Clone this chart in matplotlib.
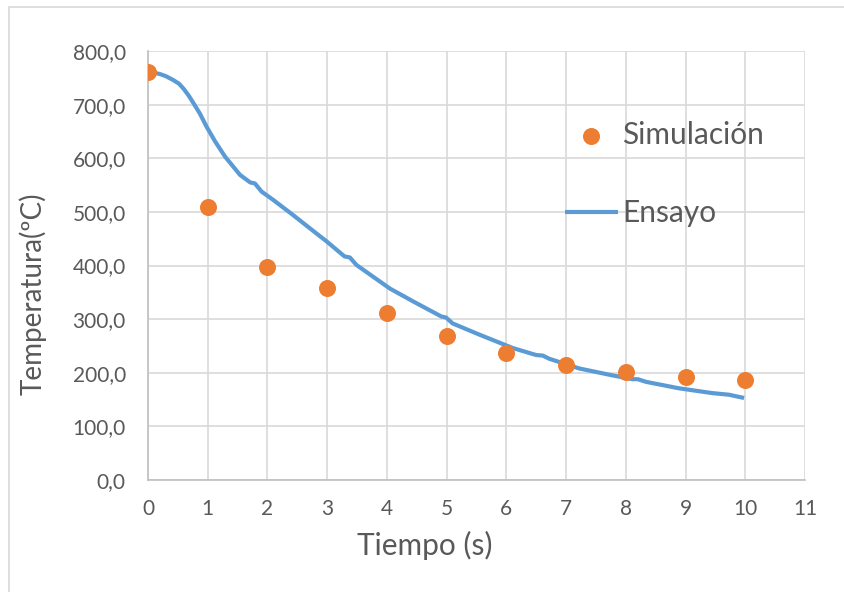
import matplotlib
matplotlib.use("Agg")
import matplotlib.pyplot as plt
from matplotlib.patches import Rectangle
from matplotlib.ticker import FuncFormatter

plt.rcParams['font.family'] = ['Lato', 'DejaVu Sans']

# Simulated temperatures, one value per second
sim_t = [0, 1, 2, 3, 4, 5, 6, 7, 8, 9, 10]
sim_temp = [760, 510, 397, 358, 311, 268, 236, 214, 201, 192, 186]

# Measured cooling curve (test)
test_t = [0.0, 0.12, 0.2, 0.3, 0.42, 0.52, 0.6, 0.68, 0.76, 0.87, 0.98, 1.12,
          1.29, 1.54, 1.71, 1.79, 1.90, 2.10, 2.43, 2.76, 2.99, 3.29, 3.38, 3.49,
          3.77, 4.05, 4.44, 4.91, 4.99, 5.10, 5.55, 6.11, 6.50, 6.61, 6.72, 7.22,
          7.78, 8.11, 8.20, 8.34, 8.89, 9.45, 9.73, 9.81, 9.98]
test_temp = [758, 759, 757, 753, 746, 739, 729, 717, 703, 683, 659, 632,
             603, 569, 555, 553, 538, 522, 494, 465, 445, 417, 415, 401,
             379, 357, 333, 305, 303, 292, 271, 246, 233, 232, 226, 208,
             195, 188, 188, 183, 171, 162, 159, 157, 153]

text_col = '#595959'
grid_col = '#d9d9d9'

fig = plt.figure(figsize=(8.45, 5.92), dpi=100)
ax = fig.add_axes([148 / 845, 112 / 592, 657 / 845, 429 / 592])

# outer chart border
fig.patches.append(Rectangle((9.5 / 845, -0.1), 1.2, (592 - 6.5) / 592 + 0.1,
                             transform=fig.transFigure, fill=False,
                             edgecolor='#d9d9d9', linewidth=1.2))

ax.plot(test_t, test_temp, color='#5B9BD5', linewidth=3, label='Ensayo',
        solid_capstyle='butt', solid_joinstyle='round', zorder=3)
ax.scatter(sim_t, sim_temp, s=150, color='#ED7D31', label='Simulación',
           zorder=4, linewidths=0)

ax.set_xlim(0, 11)
ax.set_ylim(0, 800)
ax.set_xticks(range(0, 12))
ax.set_yticks(range(0, 801, 100))
ax.yaxis.set_major_formatter(FuncFormatter(lambda v, p: f'{v:.1f}'.replace('.', ',')))
ax.grid(True, color=grid_col, linewidth=1.2)
ax.set_axisbelow(True)
for side in ['top', 'right']:
    ax.spines[side].set_visible(False)
for side in ['left', 'bottom']:
    ax.spines[side].set_color('#bfbfbf')
    ax.spines[side].set_linewidth(1.2)
ax.tick_params(length=0, labelsize=15, colors=text_col)
ax.tick_params(axis='x', pad=14)
ax.tick_params(axis='y', pad=16)

ax.set_xlabel('Tiempo (s)', fontsize=21.5, color=text_col)
ax.xaxis.set_label_coords(0.4216, -0.118)
ax.set_ylabel('Temperatura(ºC)', fontsize=20, color=text_col)
ax.yaxis.set_label_coords(-0.154, 0.434)

handles, labels = ax.get_legend_handles_labels()
leg = ax.legend(handles[::-1], labels[::-1], loc='upper left',
                bbox_to_anchor=(0.612, 0.871), frameon=False, fontsize=21.5,
                borderpad=0, labelspacing=1.68, handlelength=1.77,
                handletextpad=0.13, labelcolor=text_col)

fig.savefig('out.png', dpi=100)
